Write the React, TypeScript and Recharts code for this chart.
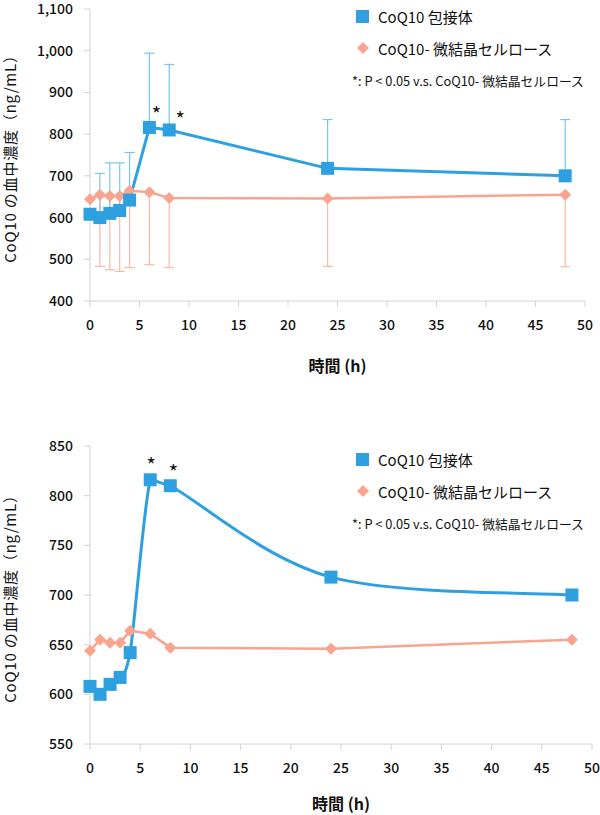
import React from 'react';
import { LineChart, Line, XAxis, YAxis, ErrorBar, Legend, LabelList } from 'recharts';

// sampling times (h)
const hours = [0, 1, 2, 3, 4, 6, 8, 24, 48];
// mean plasma CoQ10 (ng/mL)
const inclusionMean = [608, 600, 610, 617, 642, 816, 810, 718, 700];
const celluloseMean = [644, 655, 652, 652, 664, 661, 647, 646, 655];
// one-sided SD ends
const inclusionUpper = [null, 706, 731, 731, 756, 994, 967, 835, 835];
const celluloseLower = [null, 483, 475, 471, 480, 487, 480, 483, 482];
const significance = ['', '', '', '', '', '*', '*', '', ''];

const xTicks = [0, 5, 10, 15, 20, 25, 30, 35, 40, 45, 50];
const yTicksTop = [400, 500, 600, 700, 800, 900, 1000, 1100];
const yTicksBottom = [550, 600, 650, 700, 750, 800, 850];

const seriesNames = ['CoQ10 包接体', 'CoQ10- 微結晶セルロース'];
const noteText = '*: P < 0.05 v.s. CoQ10- 微結晶セルロース';
const xTitle = '時間 (h)';
const yTitle = 'CoQ10 の血中濃度（ng/mL）';

const BLUE = '#2EA0E0';
const SALMON = '#F8A48F';
const BLUE_ERR = '#7CC4EE';
const SALMON_ERR = '#F9B8A8';
const AXIS = '#D2D2D2';
const FONT = '"Noto Sans CJK JP", "Noto Sans", sans-serif';

const rows = hours.map((h, i) => ({
  hour: h,
  inclusion: inclusionMean[i],
  cellulose: celluloseMean[i],
  incErr: inclusionUpper[i] == null ? undefined : [0, (inclusionUpper[i] as number) - inclusionMean[i]],
  celErr: celluloseLower[i] == null ? undefined : [celluloseMean[i] - (celluloseLower[i] as number), 0],
  sig: significance[i],
}));

// Excel-like smoothed line: cardinal bezier, control points kept inside each segment's box
const excelSmooth = (context: any) => {
  let pts: [number, number][] = [];
  return {
    areaStart() {},
    areaEnd() {},
    lineStart() {
      pts = [];
    },
    point(x: number, y: number) {
      pts.push([+x, +y]);
    },
    lineEnd() {
      if (!pts.length) return;
      context.moveTo(pts[0][0], pts[0][1]);
      for (let i = 0; i < pts.length - 1; i++) {
        const p0 = pts[Math.max(i - 1, 0)];
        const p1 = pts[i];
        const p2 = pts[i + 1];
        const p3 = pts[Math.min(i + 2, pts.length - 1)];
        const cx = (v: number) => Math.max(Math.min(p1[0], p2[0]), Math.min(Math.max(p1[0], p2[0]), v));
        const cy = (v: number) => Math.max(Math.min(p1[1], p2[1]), Math.min(Math.max(p1[1], p2[1]), v));
        const c1x = cx(p1[0] + (p2[0] - p0[0]) / 6);
        const c1y = cy(p1[1] + (p2[1] - p0[1]) / 6);
        const c2x = cx(p2[0] - (p3[0] - p1[0]) / 6);
        const c2y = cy(p2[1] - (p3[1] - p1[1]) / 6);
        context.bezierCurveTo(c1x, c1y, c2x, c2y, p2[0], p2[1]);
      }
    },
  };
};

const squareDot = (props: any) => {
  const { cx, cy, index } = props;
  if (cx == null || cy == null) return <g key={index} />;
  return <rect key={index} x={cx - 6.5} y={cy - 6.5} width={13} height={13} fill={BLUE} />;
};

const diamondDot = (props: any) => {
  const { cx, cy, index } = props;
  if (cx == null || cy == null) return <g key={index} />;
  const r = 6;
  return (
    <polygon
      key={index}
      points={`${cx},${cy - r} ${cx + r},${cy} ${cx},${cy + r} ${cx - r},${cy}`}
      fill={SALMON}
    />
  );
};

const LegendBox = () => (
  <div style={{ fontFamily: FONT, color: '#111' }}>
    <div style={{ height: 32, display: 'flex', alignItems: 'center' }}>
      <div style={{ width: 13, height: 13, background: BLUE, marginLeft: 14, marginRight: 9 }} />
      <span style={{ fontSize: 15 }}>{seriesNames[0]}</span>
    </div>
    <div style={{ height: 32, display: 'flex', alignItems: 'center' }}>
      <svg width={14} height={14} style={{ marginLeft: 14, marginRight: 8 }}>
        <polygon points="7,1 13,7 7,13 1,7" fill={SALMON} />
      </svg>
      <span style={{ fontSize: 15 }}>{seriesNames[1]}</span>
    </div>
    <div style={{ height: 32, display: 'flex', alignItems: 'center', fontSize: 12.8, marginLeft: 10 }}>{noteText}</div>
  </div>
);

interface PanelProps {
  domain: [number, number];
  yTicks: number[];
  margin: { top: number; right: number; bottom: number; left: number };
  withErrors: boolean;
  smooth: boolean;
  legendTop: number;
  starOffsets: [number, number][];
  titleOffset: number;
}

function Panel({ domain, yTicks, margin, withErrors, smooth, legendTop, starOffsets, titleOffset }: PanelProps) {
  const renderStar = (props: any) => {
    const { x, y, value, index } = props;
    if (!value) return null;
    const k = index === 5 ? 0 : 1;
    return (
      <text
        key={index}
        x={x + starOffsets[k][0]}
        y={y + starOffsets[k][1]}
        textAnchor="middle"
        dominantBaseline="central"
        fontSize={20}
        fill="#111"
      >
        {value}
      </text>
    );
  };

  return (
    <LineChart width={600} height={400} data={rows} margin={margin}>
      <XAxis
        dataKey="hour"
        type="number"
        domain={[0, 50]}
        ticks={xTicks}
        height={30}
        tickSize={6}
        tickMargin={13}
        stroke={AXIS}
        tick={{ fill: '#111', fontSize: 14, fontWeight: 500 }}
        label={{ value: xTitle, position: 'bottom', offset: titleOffset, fill: '#111', fontSize: 16, fontWeight: 700 }}
      />
      <YAxis
        type="number"
        domain={domain}
        ticks={yTicks}
        width={90}
        tickSize={6}
        tickMargin={11}
        stroke={AXIS}
        interval={0}
        tickFormatter={(v: number) => v.toLocaleString('en-US')}
        tick={{ fill: '#111', fontSize: 14, fontWeight: 500 }}
        label={{
          value: yTitle,
          angle: -90,
          position: 'insideLeft',
          offset: 11,
          fill: '#111',
          fontSize: 15,
          style: { textAnchor: 'middle', letterSpacing: '0.8px' },
        }}
      />
      <Legend
        layout="vertical"
        align="center"
        verticalAlign="middle"
        wrapperStyle={{ left: 342, top: legendTop, width: 258 }}
        content={() => <LegendBox />}
      />
      <Line
        dataKey="cellulose"
        type="linear"
        stroke={SALMON}
        strokeWidth={2.5}
        dot={diamondDot}
        activeDot={false}
        isAnimationActive={false}
      >
        {withErrors && <ErrorBar dataKey="celErr" direction="y" width={5} stroke={SALMON_ERR} strokeWidth={1.2} />}
      </Line>
      <Line
        dataKey="inclusion"
        type={smooth ? (excelSmooth as any) : 'linear'}
        stroke={BLUE}
        strokeWidth={3}
        dot={squareDot}
        activeDot={false}
        isAnimationActive={false}
      >
        {withErrors && <ErrorBar dataKey="incErr" direction="y" width={5} stroke={BLUE_ERR} strokeWidth={1.2} />}
        <LabelList dataKey="sig" content={renderStar} />
      </Line>
    </LineChart>
  );
}

export default function App() {
  return (
    <div style={{ position: 'absolute', left: 0, top: 0, width: 600, height: 815, background: '#fff', fontFamily: FONT }}>
      <div style={{ position: 'absolute', left: 0, top: 0 }}>
        <Panel
          domain={[400, 1100]}
          yTicks={yTicksTop}
          margin={{ top: 9, right: 15, bottom: 69, left: 0 }}
          withErrors
          smooth={false}
          legendTop={0}
          starOffsets={[[7, -14], [11, -11]]}
          titleOffset={30}
        />
      </div>
      <div style={{ position: 'absolute', left: 0, top: 415 }}>
        <Panel
          domain={[550, 850]}
          yTicks={yTicksBottom}
          margin={{ top: 31, right: 8, bottom: 41, left: 0 }}
          withErrors={false}
          smooth
          legendTop={28}
          starOffsets={[[1, -15], [3, -14]]}
          titleOffset={25}
        />
      </div>
    </div>
  );
}
